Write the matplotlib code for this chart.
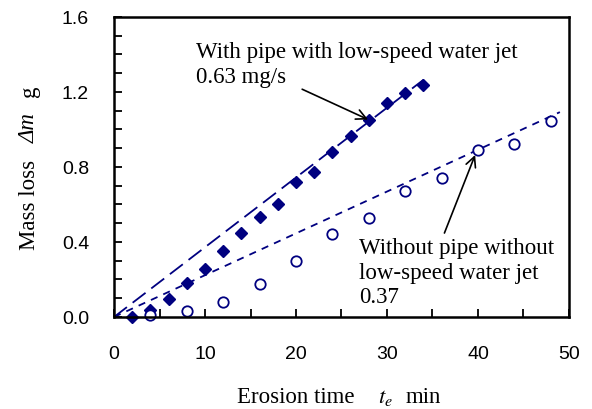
import matplotlib
matplotlib.use('Agg')
from matplotlib import pyplot as plt
from matplotlib.ticker import MultipleLocator, FormatStrFormatter
import numpy as np

plt.rcParams['mathtext.fontset'] = 'stix'

# with pipe, with low-speed water jet (filled diamonds)
t_pipe = [2, 4, 6, 8, 10, 12, 14, 16, 18, 20, 22, 24, 26, 28, 30, 32, 34]
m_pipe = [0.00, 0.037, 0.096, 0.18, 0.254, 0.354, 0.448, 0.532, 0.603, 0.72,
          0.772, 0.882, 0.967, 1.049, 1.143, 1.193, 1.237]

# without pipe, without low-speed water jet (open circles)
t_nopipe = [4, 8, 12, 16, 20, 24, 28, 32, 36, 40, 44, 48]
m_nopipe = [0.01, 0.03, 0.082, 0.174, 0.299, 0.443, 0.526, 0.672, 0.743,
            0.891, 0.921, 1.045]

# trend lines (slope in g/min)
fit_pipe_t = [0, 34]
fit_pipe_slope = 0.0372
fit_nopipe_t = [0, 49]
fit_nopipe_slope = 0.0223

navy = '#000080'
serif = 'Liberation Serif'
fs = 16.5

fig = plt.figure(figsize=(5.92, 4.10), dpi=100)
ax = fig.add_axes([0.1926, 0.2244, 0.7685, 0.7317])

ft = np.array(fit_pipe_t)
ax.plot(ft, fit_pipe_slope * ft, color=navy, lw=1.3, dashes=(9, 4))
fn = np.array(fit_nopipe_t)
ax.plot(fn, fit_nopipe_slope * fn, color=navy, lw=1.3, dashes=(4, 3.5))

ax.plot(t_pipe, m_pipe, 'D', color=navy, ms=6.5, clip_on=False)
ax.plot(t_nopipe, m_nopipe, 'o', mfc='white', mec=navy, mew=1.3, ms=7.5,
        clip_on=False)

ax.set_xlim(0, 50)
ax.set_ylim(0, 1.6)
ax.xaxis.set_major_locator(MultipleLocator(10))
ax.xaxis.set_minor_locator(MultipleLocator(5))
ax.yaxis.set_major_locator(MultipleLocator(0.4))
ax.yaxis.set_minor_locator(MultipleLocator(0.1))
ax.yaxis.set_major_formatter(FormatStrFormatter('%.1f'))
ax.tick_params(which='both', direction='in', length=6, width=1.3,
               top=False, right=False)
ax.tick_params(axis='y', which='major', pad=18)
ax.tick_params(axis='x', which='major', pad=20)
for lab in ax.get_xticklabels() + ax.get_yticklabels():
    lab.set_fontfamily('Liberation Sans')
    lab.set_fontsize(14)
for sp in ax.spines.values():
    sp.set_linewidth(1.8)

# x axis title, pieces spaced as in the original
ax.text(13.5, -0.453, 'Erosion time', fontfamily=serif, fontsize=fs,
        va='baseline', ha='left')
ax.text(29.0, -0.453, '$t_e$', fontsize=fs, va='baseline', ha='left')
ax.text(32.0, -0.453, 'min', fontfamily=serif, fontsize=fs,
        va='baseline', ha='left')

# y axis title
ax.text(-8.7, 0.363, 'Mass loss', fontfamily=serif, fontsize=fs,
        rotation=90, rotation_mode='anchor', va='baseline', ha='left')
ax.text(-8.7, 0.933, 'Δm', fontfamily=serif, fontstyle='italic', fontsize=fs,
        rotation=90, rotation_mode='anchor', va='baseline', ha='left')
ax.text(-8.7, 1.179, 'g', fontfamily=serif, fontsize=fs,
        rotation=90, rotation_mode='anchor', va='baseline', ha='left')

ax.text(9.0, 1.47, 'With pipe with low-speed water jet\n0.63 mg/s',
        fontfamily=serif, fontsize=fs, va='top', ha='left', linespacing=1.22)
ax.text(26.9, 0.425, 'Without pipe without\nlow-speed water jet\n0.37',
        fontfamily=serif, fontsize=fs, va='top', ha='left', linespacing=1.22)

ax.annotate('', xy=(28.2, 1.047), xytext=(20.4, 1.221),
            arrowprops=dict(arrowstyle='->', color='black', lw=1.2,
                            mutation_scale=18))
ax.annotate('', xy=(39.8, 0.878), xytext=(36.2, 0.434),
            arrowprops=dict(arrowstyle='->', color='black', lw=1.2,
                            mutation_scale=18))

fig.savefig('out.png', dpi=100)
